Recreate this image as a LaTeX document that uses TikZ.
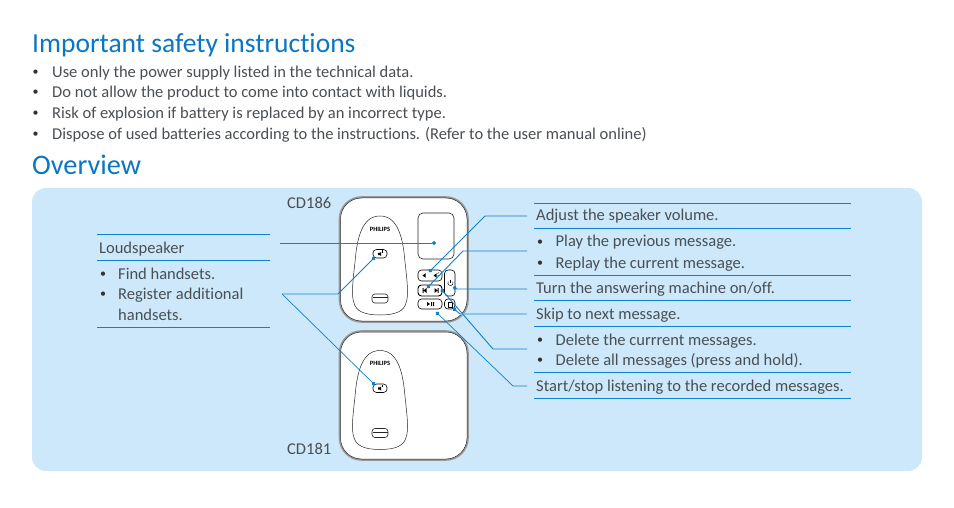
\documentclass[tikz,border=0pt]{standalone}
\usepackage{fontspec}
\setmainfont[Ligatures=NoCommon]{Carlito}
\usetikzlibrary{arrows.meta}

\definecolor{headblue}{HTML}{0B76C4}
\definecolor{panelblue}{HTML}{CCE8FA}
\definecolor{lineblue}{HTML}{0F80CC}
\definecolor{paleblue}{HTML}{8CC6EC}
\definecolor{bodygray}{HTML}{4A4F54}

\tikzset{
  heading/.style={anchor=base west, inner sep=0pt, text=headblue, font=\fontsize{27.5}{27.5}\selectfont},
  bodytext/.style={anchor=base west, inner sep=0pt, text=bodygray, font=\fontsize{16.5}{16.5}\selectfont},
  bulletdot/.style={anchor=base, inner sep=0pt, text=black!80, font=\fontsize{12}{12}\selectfont},
  rulebar/.style={draw=lineblue, line width=0.9pt},
  callout/.style={draw=lineblue, line width=0.9pt, -{Circle[length=4pt]}},
  paleline/.style={draw=paleblue, line width=1.2pt},
  keybox/.style={draw=black, line width=0.6pt, fill=white, rounded corners=3.5pt},
}

\begin{document}
\begin{tikzpicture}[x=1pt, y=-1pt]
  \useasboundingbox (0,0) rectangle (954,508);
  \fill[white] (0,0) rectangle (954,508);

  % Top text
  \node[heading] (title) at (32,52.5) {Important safety instructions};
  \node[bulletdot] (dotA) at (35.5,75.5) {•};
  \node[bodytext] (safetyA) at (52,77.5) {Use only the power supply listed in the technical data.};
  \node[bulletdot] (dotB) at (35.5,96) {•};
  \node[bodytext] (safetyB) at (52,98) {Do not allow the product to come into contact with liquids.};
  \node[bulletdot] (dotC) at (35.5,116.5) {•};
  \node[bodytext] (safetyC) at (52,118.5) {Risk of explosion if battery is replaced by an incorrect type.};
  \node[bulletdot] (dotD) at (35.5,137.5) {•};
  \node[bodytext] (safetyD) at (52,139.5) {Dispose of used batteries according to the instructions. (Refer to the user manual online)};
  \node[heading, font=\fontsize{28.3}{28.3}\selectfont] (overview) at (32,174.5) {Overview};

  % Panel
  \fill[panelblue, rounded corners=14pt] (32,188) rectangle (922,471);

  % Base stations
  \foreach \basetop/\basebot/\eggshift in {197/322/0, 331/460/134.5} {
    \draw[black!40, line width=1.6pt, fill=white, rounded corners=22pt]
      (339.5,\basetop) rectangle (468,\basebot);
    \draw[black!85, line width=0.5pt, rounded corners=21pt]
      (340.5,\basetop+1) rectangle (467,\basebot-1);
    \begin{scope}[yshift=-\eggshift pt]
      % Handset
      \draw[black!85, line width=0.5pt] (380,216)
        .. controls (362,216) and (357,238) .. (355,262)
        .. controls (353,280) and (351,296) .. (354,303)
        .. controls (356,311) and (364,315) .. (380,315)
        .. controls (396,315) and (404,311) .. (406,303)
        .. controls (409,296) and (407,280) .. (405,262)
        .. controls (403,238) and (398,216) .. (380,216) -- cycle;
      \node[inner sep=0pt, font=\fontsize{6.5}{6.5}\selectfont\bfseries] (brand\basetop) at (380,229) {PHILIPS};
      \draw[keybox] (373,249.5) rectangle (387,258);
      \fill[black] (378,252.8) rectangle (379.3,255) (379.3,254.6) -- (381,256) -- (381,252) -- (379.3,253.2) -- cycle;
      \draw[black, line width=0.4pt] (382.2,252.5) arc[start angle=-40, end angle=40, radius=1.8pt];
      \draw[black!85, line width=0.6pt, rounded corners=3pt] (372,294) rectangle (388,303);
      \draw[black!85, line width=0.4pt] (372.5,297.5) -- (387.5,297.5);
    \end{scope}
  }

  % Display and keys
  \draw[black!85, line width=0.6pt, rounded corners=5pt, fill=white] (418,213) rectangle (454,259);
  \draw[keybox] (418,270) rectangle (442,281);
  \draw[keybox, line width=0.9pt] (418,285) rectangle (442,296);
  \draw[keybox] (418,299) rectangle (442,309);
  \draw[keybox] (444.5,270) rectangle (455,296);
  \draw[keybox] (444.5,299) rectangle (455,309);

  % Key symbols
  \fill[black] (422.5,275.5) -- (425.5,273.3) -- (425.5,277.7) -- cycle;
  \fill[black] (433.5,275.5) -- (436.5,273.3) -- (436.5,277.7) -- cycle;
  \draw[black, line width=0.5pt] (437.5,273.5) -- (439,272.5) (437.5,275.5) -- (439.5,275.5);
  \fill[black] (422.5,288) rectangle (423.5,293) (423.5,290.5) -- (426.5,288) -- (426.5,293) -- cycle;
  \fill[black] (434.5,288) -- (437.5,290.5) -- (434.5,293) -- cycle (437.5,288) rectangle (438.5,293);
  \fill[black] (427,302) -- (430,304) -- (427,306) -- cycle (431,302) rectangle (432,306) (433,302) rectangle (434,306);
  \draw[black, line width=0.5pt] (448.2,281.5) arc[start angle=150, end angle=390, radius=2.7pt];
  \draw[black, line width=0.5pt] (450.5,279.5) -- (450.5,283);
  \draw[black, line width=0.5pt] (448,302) rectangle (452,307) (447.5,302) -- (452.5,302);

  % Text rules
  \foreach \ruley in {234,260,327} {
    \draw[rulebar] (97,\ruley) -- (270,\ruley);
  }
  \foreach \ruley in {203.5,228,275,300.5,326,372.5,398.5} {
    \draw[rulebar] (534,\ruley) -- (851,\ruley);
  }

  % Panel text
  \node[bodytext] (modelTop) at (287,208) {CD186};
  \node[bodytext] (modelBot) at (287,454) {CD181};
  \node[bodytext] (speaker) at (99,253) {Loudspeaker};
  \node[bulletdot] (dotE) at (103,277) {•};
  \node[bodytext] (findset) at (118,279) {Find handsets.};
  \node[bulletdot] (dotF) at (103,297) {•};
  \node[bodytext] (regset) at (118,299) {Register additional};
  \node[bodytext] (regsetb) at (118,320) {handsets.};

  \node[bodytext] (volume) at (536,221) {Adjust the speaker volume.};
  \node[bulletdot] (dotG) at (540,245) {•};
  \node[bodytext] (prevmsg) at (555.5,247) {Play the previous message.};
  \node[bulletdot] (dotH) at (540,266) {•};
  \node[bodytext] (replaymsg) at (555.5,268) {Replay the current message.};
  \node[bodytext] (answer) at (536,293) {Turn the answering machine on/off.};
  \node[bodytext] (skipmsg) at (536,319) {Skip to next message.};
  \node[bulletdot] (dotI) at (540,343) {•};
  \node[bodytext] (delmsg) at (555.5,345) {Delete the currrent messages.};
  \node[bulletdot] (dotJ) at (540,363) {•};
  \node[bodytext] (delall) at (555.5,365) {Delete all messages (press and hold).};
  \node[bodytext] (startstop) at (536,391) {Start/stop listening to the recorded messages.};

  % Callouts
  \coordinate (speakerEnd) at (280,243);
  \coordinate (displayDot) at (436,243);
  \coordinate (handsetFree) at (282,294);
  \coordinate (bendSpk) at (338,294);
  \coordinate (btnTop) at (375,257);
  \coordinate (btnBot) at (375,385);
  \coordinate (volFree) at (527,216);
  \coordinate (volBend) at (485,216);
  \coordinate (volDot) at (429,272);
  \coordinate (prevFree) at (527,251);
  \coordinate (prevBend) at (463,251);
  \coordinate (prevDot) at (427,288);
  \coordinate (powerFree) at (527,289);
  \coordinate (powerBend) at (457,289);
  \coordinate (powerDot) at (453,287);
  \coordinate (skipFree) at (527,314);
  \coordinate (skipBend) at (460,314);
  \coordinate (skipDot) at (453,308);
  \coordinate (delFree) at (527,349);
  \coordinate (delBend) at (493,349);
  \coordinate (delDot) at (441,289);
  \coordinate (playFree) at (527,386);
  \coordinate (playBend) at (513,386);
  \coordinate (playDot) at (436,312);

  \draw[callout] (speakerEnd) -- (displayDot);
  \draw[paleline] (handsetFree) -- (bendSpk);
  \draw[callout] (bendSpk) -- (btnTop);
  \draw[callout, line width=0.7pt] (handsetFree) -- (btnBot);
  \draw[callout] (volFree) -- (volBend) -- (volDot);
  \draw[callout] (prevFree) -- (prevBend) -- (prevDot);
  \draw[callout] (powerFree) -- (powerBend) -- (powerDot);
  \draw[paleline] (skipFree) -- (skipBend);
  \draw[callout] (skipBend) -- (skipDot);
  \draw[callout] (delFree) -- (delBend) -- (delDot);
  \draw[callout, line width=0.7pt] (playFree) -- (playBend) -- (playDot);
\end{tikzpicture}
\end{document}
